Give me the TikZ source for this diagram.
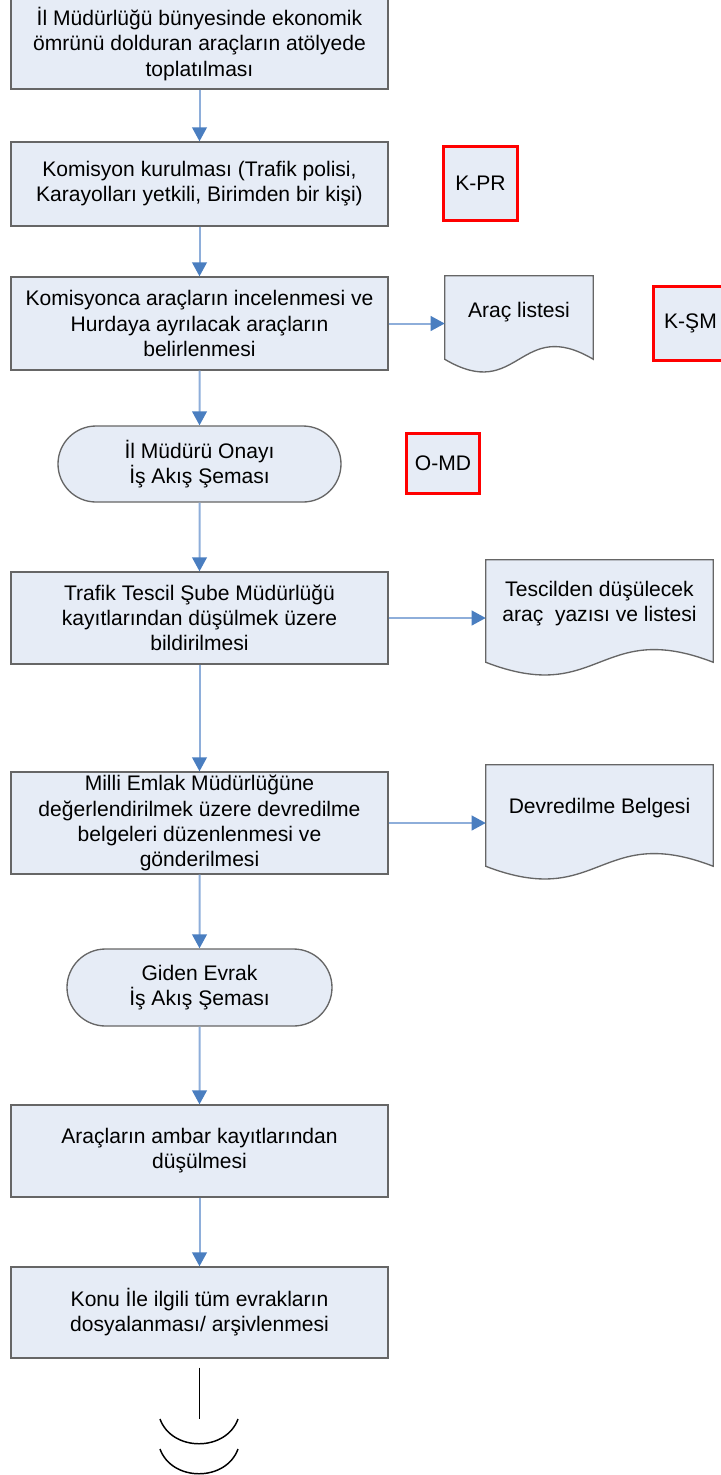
\documentclass[tikz,border=0pt]{standalone}
\usepackage{fontspec}
\setmainfont{Liberation Sans}
\usepackage{xcolor}
\usetikzlibrary{arrows.meta,calc,shapes.misc,backgrounds}
\definecolor{boxfill}{HTML}{E6ECF6}
\definecolor{boxline}{HTML}{666666}
\definecolor{flowline}{HTML}{8EAEDA}
\definecolor{flowhead}{HTML}{4A7EC0}

\begin{document}
\begin{tikzpicture}[x=0.75pt,y=-0.75pt,
    every node/.style={font=\fontsize{15.8}{18.8}\selectfont,align=center,inner sep=0pt},
    process/.style={draw=boxline,fill=boxfill,line width=1pt,minimum width=282.75pt},
    terminal/.style={rounded rectangle,draw=boxline,fill=boxfill,line width=1pt},
    refcode/.style={draw=red,fill=boxfill,line width=2.2pt},
    docline/.style={draw=boxline,fill=boxfill,line width=1pt},
    flow/.style={draw=flowline,line width=1.5pt,-{Triangle[length=10.5pt,width=11pt,color=flowhead]}},
    endline/.style={draw=black,line width=1.1pt}]
  \useasboundingbox (0,0) rectangle (721,1475);
  \clip (0,0) rectangle (721,1475);

  \node[process,minimum height=67.5pt] (b1) at (199.5,44) {İl Müdürlüğü bünyesinde ekonomik\\ömrünü dolduran araçların atölyede\\toplatılması};
  \node[process,minimum height=63pt] (b2) at (199.5,184) {Komisyon kurulması (Trafik polisi,\\Karayolları yetkili, Birimden bir kişi)};
  \node[process,minimum height=69.75pt] (b3) at (199.5,323.5) {Komisyonca araçların incelenmesi ve\\Hurdaya ayrılacak araçların\\belirlenmesi};
  \node[terminal,minimum width=212.25pt,minimum height=57pt] (t1) at (199.5,464) {İl Müdürü Onayı\\İş Akış Şeması};
  \node[process,minimum height=69pt] (b4) at (199.5,618) {Trafik Tescil Şube Müdürlüğü\\kayıtlarından düşülmek üzere\\bildirilmesi};
  \node[process,minimum height=76.5pt] (b5) at (199.5,823) {Milli Emlak Müdürlüğüne\\değerlendirilmek üzere devredilme\\belgeleri düzenlenmesi ve\\gönderilmesi};
  \node[terminal,minimum width=198.75pt,minimum height=57.75pt] (t2) at (199.5,987.5) {Giden Evrak\\İş Akış Şeması};
  \node[process,minimum height=69pt] (b6) at (199.5,1151) {Araçların ambar kayıtlarından\\düşülmesi};
  \node[process,minimum height=68.25pt] (b7) at (199.5,1312.5) {Konu İle ilgili tüm evrakların\\dosyalanması/ arşivlenmesi};

  \node[minimum width=111pt,minimum height=54pt] (d1) at (519,312) {Araç listesi};
  \node[minimum width=170.25pt,minimum height=65.25pt] (d2) at (599.5,603.5) {Tescilden düşülecek\\araç~ yazısı ve listesi};
  \node[minimum width=170.25pt,minimum height=64.5pt] (d3) at (599.5,808) {Devredilme Belgesi};
  \begin{scope}[on background layer]
    \foreach \d/\e in {d1/11,d2/15,d3/15}
      \draw[docline] (\d.north west) -- (\d.north east) -- ($(\d.south east)+(0,\e)$)
        .. controls ($(\d.south)+(0,\e-44)$) and ($(\d.south)+(0,\e+44)$) .. ($(\d.south west)+(0,\e)$) -- cycle;
  \end{scope}

  \node[refcode,minimum width=55.5pt,minimum height=55.5pt] (kpr) at (480.5,183.5) {K-PR};
  \node[refcode,minimum width=55.5pt,minimum height=55.5pt] (ksm) at (690.5,323.5) {K-ŞM};
  \node[refcode,minimum width=54.75pt,minimum height=45pt] (omd) at (443,463.5) {O-MD};

  \draw[flow] (b1) -- (b2);
  \draw[flow] (b2) -- (b3);
  \draw[flow] (b3) -- (t1);
  \draw[flow] (t1) -- (b4);
  \draw[flow] (b4) -- (b5);
  \draw[flow] (b5) -- (t2);
  \draw[flow] (t2) -- (b6);
  \draw[flow] (b6) -- (b7);
  \draw[flow] (b3.east) -- (b3.east -| d1.west);
  \draw[flow] (b4.east) -- (b4.east -| d2.west);
  \draw[flow] (b5.east) -- (b5.east -| d3.west);

  % sayfa sonu
  \coordinate (e0) at ($(b7.south)+(0,9)$);
  \draw[endline] (e0) -- ++(0,51);
  \foreach \y in {1419,1449}
    \draw[endline] (160,\y) .. controls (172,\y+33) and (226,\y+33) .. (238,\y);
\end{tikzpicture}
\end{document}
